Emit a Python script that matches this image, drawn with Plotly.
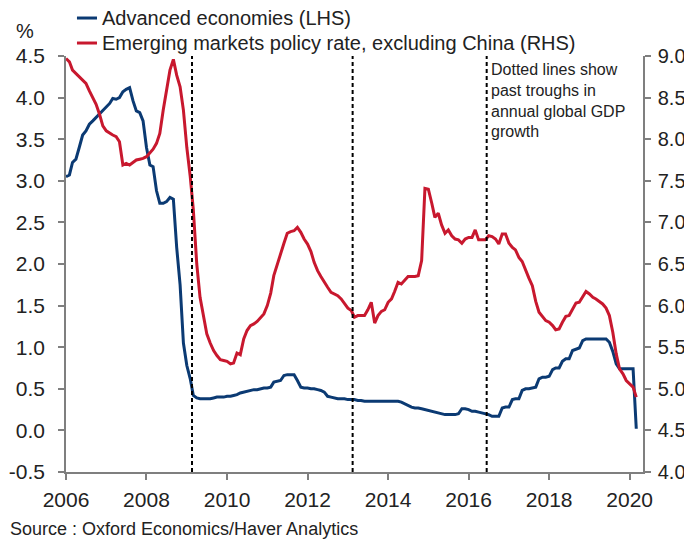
import pandas as pd
import plotly.graph_objects as go

# Monthly data, Jan 2006 - Mar 2020
months = pd.date_range("2006-01-01", "2020-03-01", freq="MS")

advanced = [
    # 2006
    3.05, 3.07, 3.22, 3.26, 3.40, 3.55, 3.60, 3.68, 3.72, 3.76, 3.80, 3.84,
    # 2007
    3.88, 3.93, 3.99, 3.98, 4.00, 4.07, 4.10, 4.12, 3.96, 3.84, 3.82, 3.72,
    # 2008
    3.40, 3.19, 3.17, 2.88, 2.73, 2.73, 2.75, 2.80, 2.78, 2.20, 1.75, 1.05,
    # 2009
    0.78, 0.62, 0.42, 0.39, 0.38, 0.38, 0.38, 0.38, 0.39, 0.40, 0.40, 0.40,
    # 2010
    0.41, 0.41, 0.42, 0.43, 0.45, 0.46, 0.47, 0.48, 0.49, 0.49, 0.50, 0.51,
    # 2011
    0.51, 0.52, 0.58, 0.59, 0.60, 0.66, 0.67, 0.67, 0.67, 0.60, 0.52, 0.51,
    # 2012
    0.51, 0.50, 0.50, 0.49, 0.48, 0.46, 0.41, 0.40, 0.39, 0.38, 0.38, 0.38,
    # 2013
    0.37, 0.37, 0.37, 0.36, 0.36, 0.35, 0.35, 0.35, 0.35, 0.35, 0.35, 0.35,
    # 2014
    0.35, 0.35, 0.35, 0.35, 0.34, 0.32, 0.30, 0.28, 0.27, 0.27, 0.26, 0.25,
    # 2015
    0.24, 0.23, 0.22, 0.21, 0.20, 0.19, 0.19, 0.19, 0.19, 0.20, 0.26, 0.26,
    # 2016
    0.25, 0.23, 0.23, 0.22, 0.21, 0.20, 0.19, 0.17, 0.17, 0.17, 0.27, 0.28,
    # 2017
    0.28, 0.37, 0.38, 0.38, 0.48, 0.50, 0.50, 0.51, 0.52, 0.62, 0.64, 0.64,
    # 2018
    0.65, 0.73, 0.75, 0.75, 0.83, 0.86, 0.86, 0.96, 0.98, 0.99, 1.08, 1.10,
    # 2019
    1.10, 1.10, 1.10, 1.10, 1.10, 1.10, 1.06, 0.95, 0.80, 0.74, 0.74, 0.74,
    # 2020
    0.74, 0.74, 0.02,
]

emerging = [
    # 2006
    8.97, 8.93, 8.83, 8.79, 8.76, 8.72, 8.67, 8.58, 8.50, 8.42, 8.30, 8.16,
    # 2007
    8.10, 8.07, 8.05, 8.03, 7.97, 7.69, 7.71, 7.69, 7.72, 7.75, 7.76, 7.77,
    # 2008
    7.79, 7.83, 7.88, 7.95, 8.07, 8.35, 8.60, 8.83, 8.96, 8.77, 8.63, 8.35,
    # 2009
    7.90, 7.55, 7.15, 6.50, 6.10, 5.85, 5.66, 5.55, 5.46, 5.40, 5.35, 5.34,
    # 2010
    5.33, 5.30, 5.31, 5.43, 5.41, 5.60, 5.70, 5.76, 5.78, 5.81, 5.85, 5.90,
    # 2011
    6.00, 6.15, 6.36, 6.50, 6.63, 6.75, 6.87, 6.89, 6.90, 6.94, 6.88, 6.80,
    # 2012
    6.74, 6.65, 6.52, 6.42, 6.35, 6.28, 6.22, 6.16, 6.14, 6.12, 6.08, 6.03,
    # 2013
    5.97, 5.94, 5.86, 5.88, 5.88, 5.88, 5.95, 6.04, 5.79, 5.88, 5.93, 5.95,
    # 2014
    6.04, 6.08, 6.17, 6.28, 6.26, 6.30, 6.35, 6.35, 6.35, 6.36, 6.54, 7.41,
    # 2015
    7.40, 7.23, 7.06, 7.11, 6.97, 6.87, 6.91, 6.84, 6.80, 6.79, 6.75, 6.80,
    # 2016
    6.82, 6.82, 6.91, 6.79, 6.79, 6.79, 6.84, 6.83, 6.80, 6.74, 6.86, 6.86,
    # 2017
    6.75, 6.70, 6.67, 6.58, 6.53, 6.42, 6.33, 6.24, 6.05, 5.92, 5.87, 5.82,
    # 2018
    5.80, 5.76, 5.71, 5.72, 5.80, 5.87, 5.88, 5.95, 6.03, 6.04, 6.10, 6.17,
    # 2019
    6.14, 6.10, 6.08, 6.05, 6.02, 5.97, 5.88, 5.68, 5.42, 5.24, 5.18, 5.10,
    # 2020
    5.06, 5.02, 4.90,
]

series_names = ["Advanced economies (LHS)",
                "Emerging markets policy rate, excluding China (RHS)"]

trough_dates = ["2009-02-17", "2013-02-13", "2016-06-13"]

left_ticks = [-0.5, 0.0, 0.5, 1.0, 1.5, 2.0, 2.5, 3.0, 3.5, 4.0, 4.5]
left_labels = ["-0.5", "0.0", "0.5", "1.0", "1.5", "2.0", "2.5", "3.0", "3.5", "4.0", "4.5"]
right_ticks = [4.0, 4.5, 5.0, 5.5, 6.0, 6.5, 7.0, 7.5, 8.0, 8.5, 9.0]
right_labels = ["4.0", "4.5", "5.0", "5.5", "6.0", "6.5", "7.0", "7.5", "8.0", "8.5", "9.0"]
year_ticks = ["2006-01-01", "2008-01-01", "2010-01-01", "2012-01-01",
              "2014-01-01", "2016-01-01", "2018-01-01", "2020-01-01"]
year_labels = ["2006", "2008", "2010", "2012", "2014", "2016", "2018", "2020"]

BLUE = "#0B3A73"
RED = "#C8182E"
AXIS = "#7F7F7F"
TEXT = "#222222"
FONT = "Liberation Sans, Arial, sans-serif"

fig = go.Figure()
fig.add_trace(go.Scatter(x=months, y=advanced, mode="lines",
                         name=series_names[0],
                         line=dict(color=BLUE, width=3), yaxis="y"))
fig.add_trace(go.Scatter(x=months, y=emerging, mode="lines",
                         name=series_names[1],
                         line=dict(color=RED, width=3), yaxis="y2"))

for d in trough_dates:
    fig.add_shape(type="line", xref="x", yref="paper", x0=d, x1=d, y0=0, y1=1,
                  line=dict(color="black", width=2, dash="4px,3px"))

# Legend drawn as line samples + labels above the plot
legend_rows = [(series_names[0], BLUE, 1.0913), (series_names[1], RED, 1.0312)]
for name, col, yy in legend_rows:
    fig.add_shape(type="line", xref="paper", yref="paper",
                  x0=0.019, x1=0.0537, y0=yy, y1=yy,
                  line=dict(color=col, width=3))
    fig.add_annotation(xref="paper", yref="paper", x=0.0589, y=yy,
                       xanchor="left", yanchor="middle", text=name,
                       showarrow=False,
                       font=dict(size=20, color=TEXT, family=FONT))

fig.add_annotation(xref="x", yref="paper", x=trough_dates[2], y=0.992,
                   xanchor="left", yanchor="top", xshift=2, align="left",
                   text="Dotted lines show<br>past troughs in<br>annual global GDP<br>growth",
                   showarrow=False, font=dict(size=16, color=TEXT, family=FONT))

fig.add_annotation(xref="paper", yref="paper", x=-0.09, y=1.03,
                   xanchor="left", yanchor="bottom", text="%", showarrow=False,
                   font=dict(size=20, color=TEXT, family=FONT))

fig.add_annotation(xref="paper", yref="paper", x=-0.1, y=-0.108,
                   xanchor="left", yanchor="top",
                   text="Source : Oxford Economics/Haver Analytics", showarrow=False,
                   font=dict(size=18, color=TEXT, family=FONT))

fig.update_layout(
    width=692, height=543,
    margin=dict(l=58, r=57, t=48, b=79, autoexpand=False),
    paper_bgcolor="white", plot_bgcolor="white",
    font=dict(family=FONT, size=20, color=TEXT),
    showlegend=False,
    xaxis=dict(type="date", range=["2006-01-01", "2020-05-01"],
               tickvals=year_ticks, ticktext=year_labels, automargin=False,
               showgrid=False, zeroline=False,
               showline=True, linecolor=AXIS, linewidth=1.5,
               ticks="outside", ticklen=6, tickcolor=AXIS, tickwidth=1.5,
               tickfont=dict(size=21), ticklabelstandoff=2),
    yaxis=dict(range=[-0.5, 4.5], tickvals=left_ticks, ticktext=left_labels,
               automargin=False,
               showgrid=False, zeroline=False,
               showline=True, linecolor=AXIS, linewidth=1.5,
               ticks="outside", ticklen=6, tickcolor=AXIS, tickwidth=1.5,
               tickfont=dict(size=21), ticklabelstandoff=9),
    yaxis2=dict(range=[4.0, 9.0], tickvals=right_ticks, ticktext=right_labels,
                overlaying="y", side="right", automargin=False,
                showgrid=False, zeroline=False,
                showline=True, linecolor=AXIS, linewidth=1.5,
                ticks="outside", ticklen=6, tickcolor=AXIS, tickwidth=1.5,
                tickfont=dict(size=20), ticklabelstandoff=3),
)

fig.write_html("out.html")
